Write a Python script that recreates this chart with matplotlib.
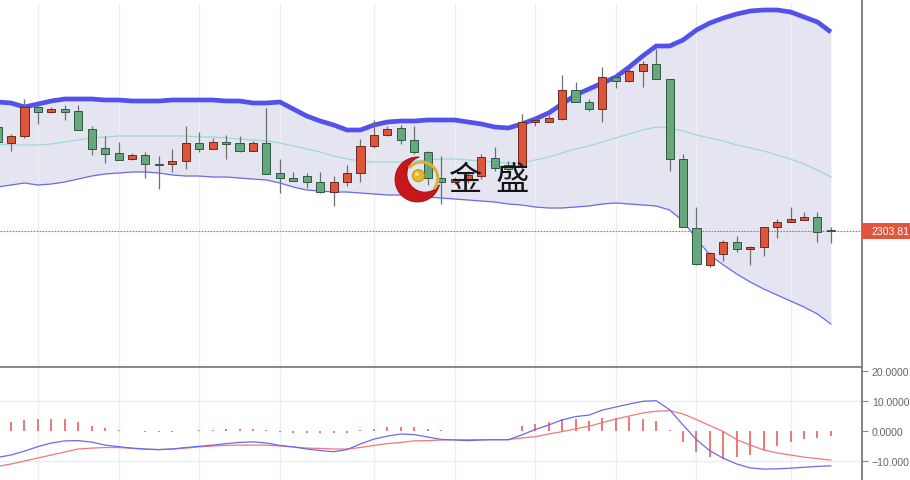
import numpy as np
import matplotlib
matplotlib.use("Agg")
import matplotlib.pyplot as plt
from matplotlib.patches import Rectangle, Polygon, Circle, Arc
from matplotlib.transforms import blended_transform_factory

# ---------------- data ----------------
opens = [2355.8, 2347.8, 2351.3, 2365.8, 2363.3, 2364.8, 2363.8, 2354.8, 2345.3, 2342.8,
         2339.8, 2341.8, 2337.3, 2337.3, 2338.8, 2347.8, 2344.8, 2348.05, 2347.8, 2343.8,
         2347.8, 2332.8, 2330.3, 2331.3, 2328.3, 2323.3, 2328.3, 2332.8, 2346.3, 2351.8,
         2355.3, 2349.3, 2343.3, 2330.3, 2328.3, 2329.3, 2331.3, 2340.3, 2336.8, 2335.8,
         2358.55, 2358.3, 2359.8, 2374.3, 2368.3, 2364.8, 2380.8, 2378.8, 2383.8, 2387.3,
         2379.8, 2339.8, 2305.3, 2286.8, 2292.3, 2298.3, 2294.8, 2295.8, 2305.8, 2308.3,
         2309.3, 2310.8, 2304.3]
highs = [2357.3, 2352.3, 2369.8, 2366.8, 2365.8, 2366.8, 2366.8, 2356.3, 2351.3, 2348.3,
         2342.8, 2343.3, 2341.3, 2344.8, 2356.3, 2353.3, 2350.3, 2351.8, 2351.3, 2348.8,
         2365.3, 2339.8, 2333.3, 2332.8, 2333.3, 2331.3, 2336.8, 2349.8, 2359.3, 2356.3,
         2356.8, 2356.3, 2343.8, 2341.3, 2330.8, 2333.8, 2342.3, 2345.8, 2338.8, 2362.3,
         2359.8, 2361.8, 2381.8, 2378.3, 2369.8, 2385.8, 2381.3, 2385.3, 2388.8, 2394.8,
         2379.8, 2342.3, 2315.8, 2293.3, 2299.3, 2301.3, 2296.3, 2305.8, 2309.8, 2315.8,
         2313.3, 2313.3, 2305.8]
lows = [2347.3, 2343.8, 2350.3, 2357.3, 2362.8, 2359.3, 2354.3, 2341.8, 2337.8, 2339.3,
        2339.3, 2330.3, 2324.8, 2333.3, 2334.8, 2343.3, 2344.8, 2339.8, 2343.3, 2343.8,
        2332.3, 2322.8, 2328.8, 2325.3, 2322.8, 2316.3, 2326.3, 2328.3, 2345.3, 2351.3,
        2347.3, 2342.3, 2326.8, 2317.3, 2327.3, 2327.8, 2329.8, 2333.8, 2333.8, 2334.8,
        2356.3, 2358.3, 2359.3, 2368.3, 2363.8, 2358.3, 2375.3, 2378.3, 2375.8, 2379.8,
        2333.8, 2305.8, 2286.8, 2285.8, 2288.8, 2293.3, 2286.8, 2291.3, 2300.3, 2308.3,
        2309.3, 2298.3, 2297.8]
closes = [2348.3, 2351.3, 2365.8, 2363.3, 2364.8, 2363.3, 2354.3, 2344.8, 2342.3, 2339.3,
          2341.8, 2337.3, 2336.8, 2338.8, 2347.8, 2344.8, 2348.3, 2347.55, 2343.8, 2347.8,
          2332.3, 2330.3, 2328.8, 2328.3, 2323.3, 2328.3, 2332.8, 2346.3, 2351.8, 2354.8,
          2349.3, 2343.3, 2330.3, 2328.3, 2329.8, 2331.8, 2340.8, 2335.3, 2334.8, 2358.3,
          2359.05, 2360.3, 2374.3, 2368.3, 2364.8, 2380.8, 2378.8, 2383.8, 2387.3, 2379.8,
          2339.8, 2305.8, 2287.3, 2292.8, 2298.3, 2294.8, 2295.8, 2305.8, 2308.3, 2309.8,
          2310.8, 2303.3, 2303.81]

boll_upper = [2368.3, 2367.8, 2365.8, 2367.3, 2368.8, 2369.8, 2369.8, 2369.8, 2369.3, 2369.3,
              2368.8, 2368.8, 2368.8, 2369.3, 2369.3, 2369.3, 2369.3, 2368.8, 2368.8, 2367.8,
              2367.8, 2368.3, 2364.8, 2361.3, 2358.8, 2356.8, 2354.3, 2354.3, 2356.8, 2358.3,
              2358.8, 2358.8, 2359.3, 2359.3, 2359.3, 2358.3, 2357.3, 2355.8, 2355.3, 2357.3,
              2359.8, 2362.8, 2367.3, 2371.8, 2374.8, 2377.8, 2380.8, 2385.8, 2391.3, 2396.3,
              2396.3, 2399.3, 2404.3, 2407.8, 2410.3, 2412.3, 2413.8, 2414.3, 2414.3, 2413.3,
              2410.8, 2408.3, 2403.3]
boll_mid = [2347.3, 2346.8, 2346.8, 2346.8, 2347.3, 2348.3, 2349.3, 2350.3, 2350.8, 2351.3,
            2351.3, 2351.3, 2351.3, 2351.3, 2351.3, 2350.8, 2350.8, 2350.3, 2349.8, 2349.3,
            2348.8, 2347.8, 2346.3, 2344.8, 2343.3, 2341.3, 2339.8, 2338.8, 2338.3, 2338.3,
            2338.3, 2338.8, 2339.3, 2339.8, 2339.8, 2339.3, 2338.8, 2338.3, 2337.8, 2337.8,
            2339.3, 2340.8, 2342.8, 2344.8, 2346.3, 2348.3, 2350.3, 2352.3, 2354.3, 2355.8,
            2355.3, 2353.8, 2351.8, 2350.3, 2348.8, 2346.8, 2345.3, 2343.8, 2341.8, 2339.8,
            2337.3, 2334.3, 2330.8]
boll_lower = [2325.8, 2326.8, 2327.8, 2326.8, 2327.3, 2328.3, 2329.8, 2331.3, 2332.3, 2332.8,
              2333.3, 2333.3, 2332.8, 2331.8, 2331.3, 2331.3, 2330.8, 2330.8, 2330.3, 2329.8,
              2329.3, 2327.8, 2325.8, 2324.3, 2323.8, 2323.3, 2323.3, 2322.8, 2322.3, 2321.8,
              2321.8, 2321.3, 2320.8, 2320.3, 2319.8, 2319.3, 2318.8, 2318.3, 2317.3, 2316.8,
              2315.8, 2315.3, 2315.3, 2315.8, 2316.3, 2317.3, 2317.8, 2317.3, 2316.8, 2316.3,
              2314.3, 2308.8, 2299.8, 2291.8, 2286.8, 2282.3, 2278.3, 2274.8, 2271.8, 2268.8,
              2265.8, 2262.3, 2257.3]

macd_dif = [-8.8, -8.0, -6.7, -5.2, -4.0, -3.3, -3.2, -3.7, -4.7, -5.2,
            -5.7, -6.0, -6.2, -6.0, -5.5, -5.1, -4.7, -4.2, -3.8, -3.6,
            -4.0, -4.8, -5.3, -6.0, -6.5, -6.9, -6.2, -4.3, -2.7, -1.7,
            -1.0, -1.2, -2.0, -2.8, -3.0, -3.2, -3.0, -2.9, -2.9, -1.3,
            0.5, 2.0, 3.7, 4.8, 5.3, 7.0, 8.0, 9.0, 9.9, 10.1,
            7.1, 2.0, -2.9, -6.6, -9.1, -11.0, -12.3, -12.7, -12.6, -12.4,
            -12.1, -11.8, -11.6]
macd_dea = [-11.8, -11.0, -10.0, -9.0, -8.0, -7.0, -6.0, -5.7, -5.5, -5.5,
            -5.8, -6.1, -6.2, -6.0, -5.7, -5.3, -5.0, -4.8, -4.7, -4.7,
            -4.7, -5.0, -5.3, -5.7, -5.8, -6.0, -6.0, -5.5, -4.8, -4.2,
            -3.8, -3.3, -3.2, -3.0, -2.9, -2.9, -2.9, -2.9, -2.9, -2.3,
            -1.9, -1.0, -0.2, 0.7, 1.6, 2.8, 4.0, 5.0, 6.0, 6.6,
            6.8, 5.7, 3.8, 1.8, -0.2, -2.9, -4.7, -6.3, -7.3, -8.0,
            -8.7, -9.2, -9.7]
macd_hist = [2.8, 3.1, 3.7, 4.0, 4.0, 4.0, 2.9, 1.8, 0.9, 0.3,
             0.1, -0.2, -0.4, -0.4, 0.0, 0.3, 0.5, 0.7, 0.8, 0.8,
             0.3, -0.2, -0.5, -0.6, -0.7, -0.7, -0.5, 0.3, 0.8, 1.2,
             1.3, 1.2, 0.7, 0.3, -0.1, -0.1, -0.1, 0.0, 0.1, 1.8,
             2.3, 2.9, 4.0, 4.0, 3.4, 4.2, 4.3, 4.6, 4.0, 3.2,
             0.2, -3.8, -7.1, -8.8, -9.3, -8.8, -8.0, -6.6, -5.1, -3.8,
             -2.7, -2.3, -1.8]

last_price = 2303.81
grid_idx = [3, 9, 15, 21, 28, 34, 40, 46, 52, 59]
macd_ticks = [20, 10, 0, -10]
macd_tick_labels = ["20.0000", "10.0000", "0.0000", "\u221210.000"]
logo_chars = ["金", "盛"]

# ---------------- styling ----------------
RED = "#de553c"
GREEN = "#66a77e"
W, H = 910, 481
fig = plt.figure(figsize=(W / 100, H / 100), dpi=100)
fig.patch.set_facecolor("white")

axw = 862 / W
ax1 = fig.add_axes([0, 113 / H, axw, 368 / H])
ax2 = fig.add_axes([0, 0, axw, 112 / H])

n = len(closes)
idx = np.arange(n)
xlim = (0.179, 64.315)

# ---- main panel ----
ax1.set_xlim(*xlim)
ax1.set_ylim(2235.8, 2419.8)
ax1.fill_between(idx, boll_lower, boll_upper, color="#e5e5f2", lw=0, zorder=0.5)
ax1.vlines(grid_idx, 2235.8, 2418.0, color="#ededed", lw=1.0, zorder=0.8)
ax1.plot(idx, boll_mid, color="#9adbd0", lw=0.9, zorder=1)
ax1.plot(idx, boll_lower, color="#6a6af0", lw=0.9, zorder=1)
ax1.plot(idx, boll_upper, color="#5252ea", lw=3.4, zorder=1, solid_capstyle="butt")

bw = 0.6
for i in range(n):
    o, h, l, c = opens[i], highs[i], lows[i], closes[i]
    up = c >= o
    col = RED if up else GREEN
    edge = "#6a2a1e" if up else "#2f5a40"
    ax1.vlines(i, l, h, color="#6f6f6f", lw=0.9, zorder=2)
    bot = min(o, c)
    ht = max(abs(c - o), 0.6)
    ax1.add_patch(Rectangle((i - bw / 2, bot), bw, ht, facecolor=col,
                            edgecolor=edge, lw=0.7, zorder=3))

ax1.axhline(last_price, color="#e8593f", lw=0.8, ls=(0, (1.5, 1.2)), zorder=2.5)

for s in ["top", "left"]:
    ax1.spines[s].set_visible(False)
ax1.spines["right"].set_color("#7a7a7a")
ax1.spines["right"].set_linewidth(1.3)
ax1.spines["bottom"].set_color("#8a8a8a")
ax1.spines["bottom"].set_linewidth(1.5)
ax1.set_xticks([])
ax1.set_yticks([])

blend = blended_transform_factory(ax1.transAxes, ax1.transData)
ax1.add_patch(Rectangle((1.0, last_price - 4.0), 0.1, 8.0, transform=blend,
                        facecolor="#e0553c", edgecolor="none", clip_on=False, zorder=5))
ax1.text(1.0105, last_price, "2303.81", transform=blend, color="white",
         fontsize=7.6, family="Liberation Sans",
         ha="left", va="center", clip_on=False, zorder=6)

# ---- MACD panel ----
ax2.set_xlim(*xlim)
ax2.set_ylim(-16.33, 21.0)
ax2.vlines(grid_idx, -16.33, 21.0, color="#ededed", lw=1.0, zorder=0.5)
for v in [10, -10]:
    ax2.axhline(v, color="#ededed", lw=1.0, zorder=0.5)
ax2.vlines(idx, 0, macd_hist, color="#f06a6a", lw=1.3, zorder=2)
ax2.plot(idx, macd_dea, color="#f07878", lw=0.9, zorder=3)
ax2.plot(idx, macd_dif, color="#6a6af0", lw=0.9, zorder=3)

for s in ["top", "left", "bottom"]:
    ax2.spines[s].set_visible(False)
ax2.spines["right"].set_color("#7a7a7a")
ax2.spines["right"].set_linewidth(1.3)
ax2.set_xticks([])
ax2.yaxis.tick_right()
ax2.set_yticks(macd_ticks)
ax2.set_yticklabels(macd_tick_labels)
ax2.tick_params(axis="y", length=4, width=0.8, color="#888888", labelcolor="#666666",
                labelsize=7.6, pad=3)
for t in ax2.get_yticklabels():
    t.set_family("Liberation Sans")

# ---- logo ----
cx, cy, R = 417.5, 180.5, 22.5
lax = fig.add_axes([(cx - 28) / W, (H - cy - 28) / H, 56 / W, 56 / H], zorder=10)
lax.set_xlim(-56 / 2 / R, 56 / 2 / R)
lax.set_ylim(-56 / 2 / R, 56 / 2 / R)
lax.axis("off")
lax.patch.set_alpha(0)
ic = np.array([0.33, 0.24])
ir = 0.80
phi0 = np.arctan2(ic[1], ic[0])
t = phi0 + np.linspace(0, 2 * np.pi, 721)
ox, oy = np.cos(t), np.sin(t)
keep_o = (ox - ic[0]) ** 2 + (oy - ic[1]) ** 2 > ir ** 2
ix, iy = ic[0] + ir * np.cos(t), ic[1] + ir * np.sin(t)
keep_i = ix ** 2 + iy ** 2 < 1.0
outer = np.column_stack([ox[keep_o], oy[keep_o]])
inner = np.column_stack([ix[keep_i], iy[keep_i]])[::-1]
lax.add_patch(Polygon(np.vstack([outer, inner]), closed=True, facecolor="#c8161d",
                      edgecolor="#9a0f14", lw=0.6))
lax.add_patch(Arc((0.18, 0.05), 1.45, 1.45, theta1=-40, theta2=140, color="#d8b13a", lw=2.2))
lax.add_patch(Circle((0.04, 0.17), 0.27, facecolor="#e3b82a", edgecolor="#b88d10", lw=0.6))
lax.add_patch(Circle((-0.03, 0.24), 0.09, facecolor="#f6e27a", edgecolor="none"))

fig.text(465 / W, 1 - 181 / H, logo_chars[0], fontsize=24, color="#151515",
         family=["Noto Sans CJK SC", "DejaVu Sans"], ha="center", va="center", zorder=11)
fig.text(512 / W, 1 - 181 / H, logo_chars[1], fontsize=24, color="#151515",
         family=["Noto Sans CJK SC", "DejaVu Sans"], ha="center", va="center", zorder=11)

fig.savefig("out.png", dpi=100, facecolor="white")
